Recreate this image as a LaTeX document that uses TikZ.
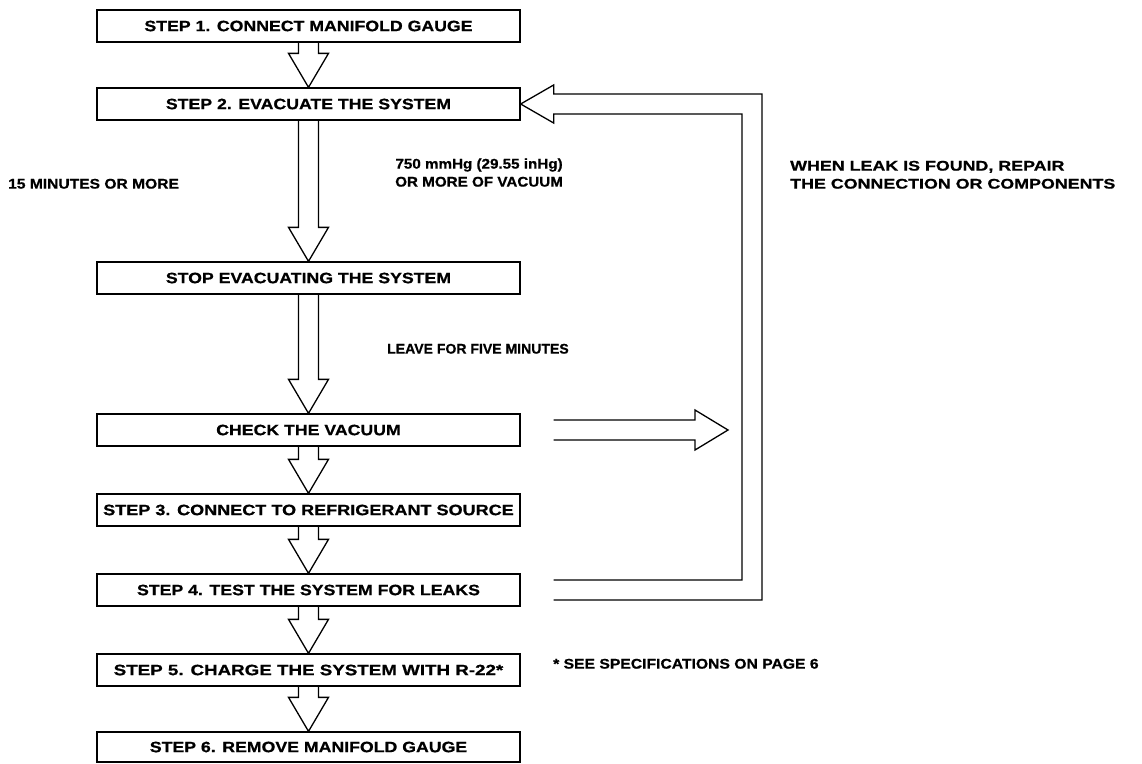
\documentclass[tikz,border=0pt]{standalone}
\usepackage{fontspec}
\usepackage{graphicx}
\setmainfont{Liberation Sans}[FakeStretch=1.18, BoldFeatures={FakeBold=0.8}]
\usetikzlibrary{calc}
\tikzset{
  stepbox/.style={draw, line width=1.3pt, minimum width=423pt, minimum height=32pt, inner sep=0pt,
    font=\fontsize{15}{16}\selectfont\bfseries},
  conn/.style={draw, line width=1.3pt, line join=miter},
  lbl/.style={inner sep=0pt, font=\fontsize{14}{18}\selectfont\bfseries},
}
\newcommand\blockdown[2]{%
  \draw[conn] ($(#1.south)+(-10,0)$) -- ($(#2.north)+(-10,-34)$) -- ($(#2.north)+(-20,-34)$)
    -- (#2.north) -- ($(#2.north)+(20,-34)$) -- ($(#2.north)+(10,-34)$) -- ($(#1.south)+(10,0)$);}
\newcommand\hsq[2]{\scalebox{#1}[1]{\begin{tabular}{@{}l@{}}#2\end{tabular}}}
\begin{document}
\begin{tikzpicture}[x=1pt,y=-1pt]
\useasboundingbox (0,0) rectangle (1142,763);
\node[stepbox] (b1) at (308.5,26) {STEP 1. CONNECT MANIFOLD GAUGE};
\node[stepbox] (b2) at (308.5,104) {STEP 2. EVACUATE THE SYSTEM};
\node[stepbox] (b3) at (308.5,278) {STOP EVACUATING THE SYSTEM};
\node[stepbox] (b4) at (308.5,430) {CHECK THE VACUUM};
\node[stepbox] (b5) at (308.5,510) {\scalebox{1.02}[1]{STEP 3. CONNECT TO REFRIGERANT SOURCE}};
\node[stepbox] (b6) at (308.5,590) {STEP 4. TEST THE SYSTEM FOR LEAKS};
\node[stepbox] (b7) at (308.5,670) {\scalebox{1.06}[1]{STEP 5. CHARGE THE SYSTEM WITH R-22*}};
\node[stepbox, minimum height=30pt] (b8) at (308.5,747) {STEP 6. REMOVE MANIFOLD GAUGE};

\blockdown{b1}{b2}
\blockdown{b2}{b3}
\blockdown{b3}{b4}
\blockdown{b4}{b5}
\blockdown{b5}{b6}
\blockdown{b6}{b7}
\blockdown{b7}{b8}

% loop back from step 4 to step 2
\coordinate (loopO) at (762,0);
\coordinate (loopI) at (742,0);
\coordinate (p6o) at ($(b6.east)+(33,10)$);
\coordinate (p6i) at ($(b6.east)+(33,-10)$);
\coordinate (p2o) at ($(b2.east)+(33,-10)$);
\coordinate (p2i) at ($(b2.east)+(33,10)$);
\draw[conn] (p6o) -- (p6o -| loopO) -- (p2o -| loopO) -- (p2o)
  -- ($(b2.east)+(33,-19)$) -- (b2.east) -- ($(b2.east)+(33,19)$) -- (p2i)
  -- (p2i -| loopI) -- (p6i -| loopI) -- (p6i);

% arrow from check the vacuum
\coordinate (chk) at (728,430);
\draw[conn] ($(b4.east)+(33,-10)$) -- ($(chk)+(-33,-10)$) -- ($(chk)+(-33,-20)$) -- (chk)
  -- ($(chk)+(-33,20)$) -- ($(chk)+(-33,10)$) -- ($(b4.east)+(33,10)$);

\node[lbl, anchor=west] (t15) at (8,185) {\hsq{0.944}{15 MINUTES OR MORE}};
\node[lbl, anchor=west] (tvac) at (395,174) {\scalebox{0.92}[1]{\begin{tabular}{@{}c@{}}750 mmHg (29.55 inHg)\\OR MORE OF VACUUM\end{tabular}}};
\node[lbl, anchor=west] (tleave) at (387,350) {\hsq{0.85}{LEAVE FOR FIVE MINUTES}};
\node[lbl, anchor=west] (tleak) at (790,176) {\hsq{1.08}{WHEN LEAK IS FOUND, REPAIR\\THE CONNECTION OR COMPONENTS}};
\node[lbl, anchor=west] (tspec) at (553,665) {\hsq{0.95}{* SEE SPECIFICATIONS ON PAGE 6}};
\end{tikzpicture}
\end{document}
